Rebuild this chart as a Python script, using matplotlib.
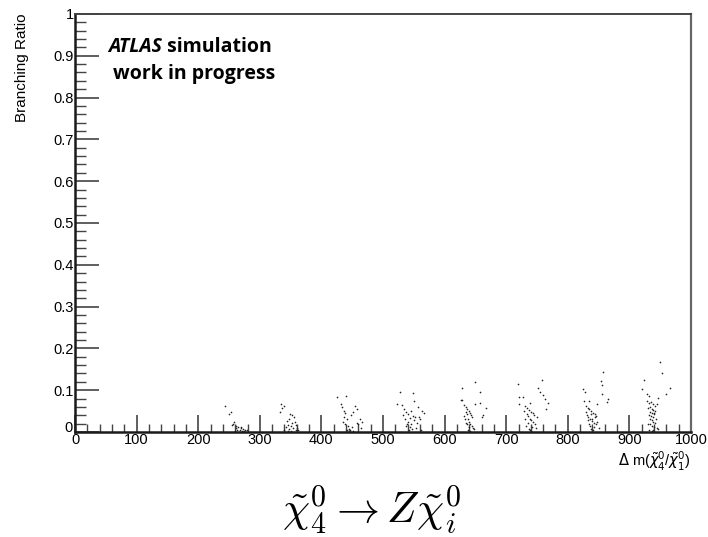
import matplotlib
matplotlib.use('Agg')
import matplotlib.pyplot as plt
from matplotlib.ticker import MultipleLocator
from matplotlib.transforms import ScaledTranslation

# branching ratio points, one pair of lists per mass-splitting cluster
x1 = [244, 250, 253, 256, 258, 261, 263, 265, 267, 269, 271, 273, 276, 279, 262, 259, 266, 270, 255, 274]
y1 = [0.062, 0.042, 0.047, 0.020, 0.024, 0.010, 0.004, 0.012, 0.006, 0.009, 0.003, 0.008, 0.006, 0.005,
      0.015, 0.002, 0.001, 0.011, 0.016, 0.002]
x2 = [334, 339, 336, 333, 349, 353, 356, 344, 348, 352, 357, 342, 345, 350, 354, 359, 362, 347, 351, 355,
      340, 358, 346, 360]
y2 = [0.066, 0.063, 0.057, 0.048, 0.044, 0.040, 0.036, 0.026, 0.030, 0.022, 0.024, 0.012, 0.016, 0.014,
      0.010, 0.006, 0.004, 0.008, 0.003, 0.001, 0.005, 0.017, 0.002, 0.009]
x3 = [426, 440, 432, 434, 455, 458, 436, 438, 452, 462, 466, 437, 441, 448, 457, 460, 439, 443, 445, 447,
      449, 435, 464, 451, 444, 442, 446]
y3 = [0.083, 0.086, 0.068, 0.060, 0.062, 0.055, 0.050, 0.045, 0.047, 0.030, 0.025, 0.035, 0.030, 0.040,
      0.022, 0.018, 0.020, 0.015, 0.008, 0.005, 0.012, 0.025, 0.010, 0.003, 0.002, 0.006, 0.001]
x4 = [528, 549, 523, 531, 551, 556, 563, 567, 560, 534, 538, 541, 545, 548, 552, 536, 540, 543, 546, 550,
      537, 544, 539, 547, 542, 553, 555, 533, 558, 561]
y4 = [0.096, 0.094, 0.068, 0.064, 0.074, 0.060, 0.050, 0.045, 0.030, 0.055, 0.048, 0.042, 0.050, 0.038,
      0.035, 0.030, 0.025, 0.033, 0.020, 0.028, 0.015, 0.012, 0.018, 0.008, 0.005, 0.010, 0.022, 0.040,
      0.035, 0.004]
x5 = [649, 628, 657, 626, 629, 658, 667, 662, 660, 650, 632, 635, 637, 639, 641, 643, 645, 634, 636, 638,
      640, 642, 644, 633, 631, 646, 638, 640, 636, 642, 647, 635]
y5 = [0.120, 0.105, 0.095, 0.076, 0.077, 0.070, 0.058, 0.040, 0.036, 0.068, 0.065, 0.060, 0.055, 0.050,
      0.045, 0.040, 0.035, 0.048, 0.042, 0.030, 0.025, 0.020, 0.015, 0.032, 0.038, 0.010, 0.005, 0.012,
      0.018, 0.003, 0.008, 0.022]
x6 = [719, 758, 752, 755, 760, 763, 768, 765, 721, 727, 720, 739, 731, 734, 737, 740, 743, 745, 729, 733,
      736, 738, 741, 744, 746, 730, 735, 742, 748, 732, 739, 737, 741, 750]
y6 = [0.116, 0.124, 0.106, 0.095, 0.088, 0.080, 0.070, 0.055, 0.084, 0.083, 0.068, 0.070, 0.062, 0.058,
      0.052, 0.048, 0.045, 0.040, 0.050, 0.042, 0.038, 0.032, 0.028, 0.024, 0.018, 0.030, 0.022, 0.012,
      0.010, 0.015, 0.005, 0.008, 0.002, 0.035]
x7 = [857, 854, 855, 824, 828, 856, 866, 864, 826, 834, 848, 830, 832, 835, 838, 841, 844, 846, 829, 831,
      833, 836, 839, 842, 845, 837, 840, 843, 847, 834, 838, 836, 841, 850, 832, 844]
y7 = [0.144, 0.123, 0.113, 0.103, 0.095, 0.092, 0.080, 0.072, 0.075, 0.074, 0.068, 0.062, 0.058, 0.055,
      0.050, 0.046, 0.042, 0.038, 0.048, 0.040, 0.035, 0.030, 0.026, 0.022, 0.018, 0.044, 0.032, 0.012,
      0.025, 0.020, 0.008, 0.014, 0.004, 0.010, 0.028, 0.036]
x8 = [950, 953, 966, 960, 924, 921, 928, 931, 946, 944, 929, 932, 935, 938, 941, 930, 933, 936, 939, 942,
      934, 937, 940, 931, 935, 938, 943, 933, 936, 939, 941, 930, 934, 937, 940, 945, 947, 932, 938, 936,
      940]
y8 = [0.167, 0.140, 0.105, 0.091, 0.124, 0.103, 0.092, 0.085, 0.082, 0.066, 0.075, 0.070, 0.072, 0.068,
      0.062, 0.058, 0.060, 0.055, 0.052, 0.050, 0.048, 0.045, 0.042, 0.040, 0.038, 0.035, 0.032, 0.030,
      0.028, 0.025, 0.022, 0.020, 0.018, 0.015, 0.012, 0.010, 0.008, 0.006, 0.004, 0.002, 0.045]

clusters = [(x1, y1), (x2, y2), (x3, y3), (x4, y4), (x5, y5), (x6, y6), (x7, y7), (x8, y8)]

x_ticks = list(range(0, 1001, 100))
y_ticks = [i / 10 for i in range(11)]
y_ticklabels = ['0'] + ['0.%d' % i for i in range(1, 10)] + ['1']

plt.rcParams['font.family'] = ['Liberation Sans', 'DejaVu Sans']
plt.rcParams['mathtext.fontset'] = 'cm'

fig = plt.figure(figsize=(7.08, 5.37), dpi=100)
ax = fig.add_axes([0.106, 0.1955, 0.870, 0.7785])

for xs, ys in clusters:
    ax.plot(xs, ys, '.', color='#222222', ms=2.4, mew=0)

ax.set_xlim(0, 1000)
ax.set_ylim(0, 1)

# ROOT-like axes: ticks inside on left/bottom only
ax.xaxis.set_minor_locator(MultipleLocator(20))
ax.yaxis.set_minor_locator(MultipleLocator(0.02))
ax.set_xticks(x_ticks)
ax.set_xticklabels([str(v) for v in x_ticks])
ax.set_yticks(y_ticks)
ax.set_yticklabels(y_ticklabels)
ax.tick_params(axis='x', which='major', direction='in', length=12, width=1.2, color='#444444',
               labelsize=10.5, pad=1)
ax.tick_params(axis='x', which='minor', direction='in', length=6, width=1.0, color='#444444')
ax.tick_params(axis='y', which='major', direction='in', length=17, width=1.2, color='#444444',
               labelsize=10.5, pad=1)
ax.tick_params(axis='y', which='minor', direction='in', length=8, width=1.0, color='#444444')

# lift the y-axis "0" a little so it sits clear of the x-axis "0", like ROOT
y0 = ax.get_yticklabels()[0]
y0.set_transform(y0.get_transform() + ScaledTranslation(-1 / 72, 4 / 72, fig.dpi_scale_trans))

for side in ('left', 'bottom'):
    ax.spines[side].set_linewidth(1.8)
    ax.spines[side].set_color('#1a1a1a')
ax.spines['top'].set_color('#444444')
ax.spines['right'].set_color('#666666')
ax.spines['top'].set_linewidth(1.4)
ax.spines['right'].set_linewidth(1.6)

fig.text(0.031, 0.974, 'Branching Ratio', rotation=90, ha='center', va='top', fontsize=11)
fig.text(0.976, 0.140, r'$\Delta$ m($\tilde{\chi}_4^0$/$\tilde{\chi}_1^0$)', ha='right', va='center',
         fontsize=10.5, math_fontfamily='dejavusans')

atlas = ax.text(0.053, 0.898, 'ATLAS', transform=ax.transAxes, fontsize=14, fontweight='bold',
                fontstyle='italic', family=['Open Sans', 'DejaVu Sans'], va='bottom')
ax.annotate(' simulation', xy=(1, 0), xycoords=atlas, fontsize=14, fontweight='bold',
            family=['Open Sans', 'DejaVu Sans'], va='bottom', ha='left')
ax.text(0.062, 0.833, 'work in progress', transform=ax.transAxes, fontsize=14, fontweight='bold',
        family=['Open Sans', 'DejaVu Sans'], va='bottom')

fig.text(0.525, 0.05, r'$\tilde{\chi}_4^0 \rightarrow Z\tilde{\chi}_i^0$', ha='center', va='center',
         fontsize=31)

fig.savefig('out.png', dpi=100)
